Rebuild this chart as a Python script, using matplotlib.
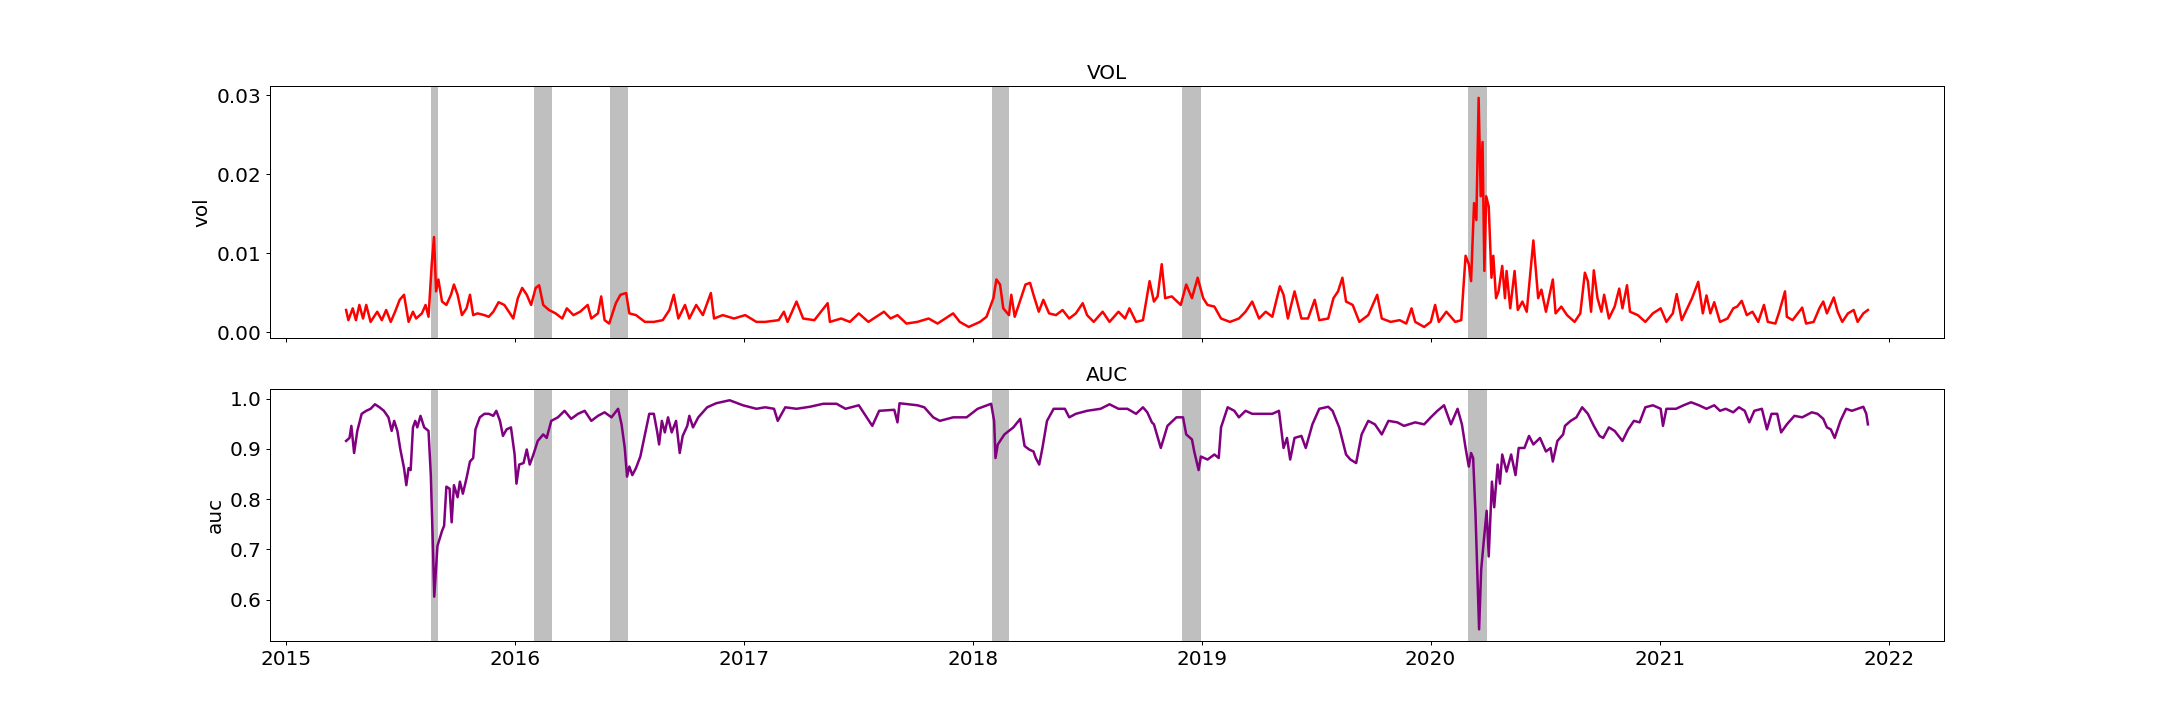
import numpy as np
import pandas as pd
import matplotlib
matplotlib.use('Agg')
import matplotlib.pyplot as plt

# ── Data (time as decimal year) ──────────────────────────────────────────────
VOL_T = [2015.263, 2015.273, 2015.292, 2015.306, 2015.321, 2015.337, 2015.351, 2015.370, 2015.399, 2015.419,
         2015.438, 2015.458, 2015.477, 2015.497, 2015.516, 2015.536, 2015.555, 2015.569, 2015.594, 2015.610,
         2015.623, 2015.637, 2015.647, 2015.656, 2015.666, 2015.682, 2015.701, 2015.721, 2015.734, 2015.750,
         2015.769, 2015.789, 2015.804, 2015.818, 2015.837, 2015.867, 2015.886, 2015.906, 2015.929, 2015.954,
         2015.974, 2015.993, 2016.013, 2016.032, 2016.052, 2016.071, 2016.091, 2016.106, 2016.124, 2016.149,
         2016.178, 2016.207, 2016.227, 2016.256, 2016.285, 2016.318, 2016.334, 2016.363, 2016.377, 2016.392,
         2016.412, 2016.441, 2016.461, 2016.486, 2016.500, 2016.529, 2016.568, 2016.607, 2016.646, 2016.675,
         2016.694, 2016.714, 2016.743, 2016.762, 2016.792, 2016.821, 2016.856, 2016.870, 2016.908, 2016.957,
         2017.006, 2017.055, 2017.093, 2017.152, 2017.175, 2017.191, 2017.230, 2017.259, 2017.308, 2017.366,
         2017.376, 2017.425, 2017.463, 2017.502, 2017.544, 2017.612, 2017.641, 2017.671, 2017.710, 2017.758,
         2017.807, 2017.846, 2017.914, 2017.943, 2017.982, 2018.031, 2018.060, 2018.090, 2018.103, 2018.119,
         2018.133, 2018.158, 2018.168, 2018.183, 2018.203, 2018.230, 2018.250, 2018.265, 2018.288, 2018.308,
         2018.333, 2018.363, 2018.392, 2018.421, 2018.450, 2018.480, 2018.499, 2018.528, 2018.567, 2018.597,
         2018.636, 2018.665, 2018.684, 2018.713, 2018.743, 2018.772, 2018.791, 2018.807, 2018.825, 2018.840,
         2018.869, 2018.908, 2018.932, 2018.957, 2018.982, 2019.006, 2019.025, 2019.055, 2019.084, 2019.123,
         2019.162, 2019.191, 2019.220, 2019.250, 2019.279, 2019.308, 2019.341, 2019.357, 2019.376, 2019.405,
         2019.435, 2019.464, 2019.493, 2019.513, 2019.552, 2019.575, 2019.595, 2019.614, 2019.630, 2019.659,
         2019.688, 2019.727, 2019.766, 2019.786, 2019.825, 2019.864, 2019.893, 2019.916, 2019.932, 2019.971,
         2020.000, 2020.019, 2020.035, 2020.068, 2020.107, 2020.133, 2020.152, 2020.166, 2020.176, 2020.189,
         2020.199, 2020.209, 2020.218, 2020.226, 2020.234, 2020.242, 2020.253, 2020.265, 2020.273, 2020.285,
         2020.296, 2020.312, 2020.324, 2020.331, 2020.347, 2020.366, 2020.380, 2020.400, 2020.419, 2020.433,
         2020.448, 2020.469, 2020.483, 2020.503, 2020.533, 2020.545, 2020.570, 2020.595, 2020.628, 2020.653,
         2020.673, 2020.686, 2020.700, 2020.712, 2020.728, 2020.745, 2020.757, 2020.778, 2020.803, 2020.823,
         2020.837, 2020.857, 2020.870, 2020.904, 2020.937, 2020.970, 2021.004, 2021.029, 2021.057, 2021.074,
         2021.096, 2021.141, 2021.168, 2021.188, 2021.204, 2021.221, 2021.238, 2021.263, 2021.296, 2021.321,
         2021.338, 2021.358, 2021.380, 2021.405, 2021.430, 2021.455, 2021.472, 2021.505, 2021.522, 2021.547,
         2021.555, 2021.580, 2021.622, 2021.639, 2021.672, 2021.697, 2021.714, 2021.730, 2021.760, 2021.777,
         2021.797, 2021.822, 2021.847, 2021.864, 2021.889, 2021.909]
VOL_V = [0.00280, 0.00151, 0.00301, 0.00151, 0.00344, 0.00172, 0.00344, 0.00129, 0.00258, 0.00151,
         0.00280, 0.00129, 0.00258, 0.00409, 0.00473, 0.00129, 0.00258, 0.00172, 0.00237, 0.00344,
         0.00194, 0.00861, 0.01205, 0.00516, 0.00667, 0.00387, 0.00344, 0.00473, 0.00603, 0.00473,
         0.00215, 0.00301, 0.00473, 0.00215, 0.00237, 0.00215, 0.00194, 0.00258, 0.00379, 0.00344,
         0.00258, 0.00172, 0.00430, 0.00560, 0.00473, 0.00344, 0.00560, 0.00594, 0.00344, 0.00280,
         0.00237, 0.00172, 0.00301, 0.00215, 0.00258, 0.00344, 0.00172, 0.00237, 0.00452, 0.00151,
         0.00108, 0.00366, 0.00473, 0.00495, 0.00237, 0.00215, 0.00129, 0.00129, 0.00151, 0.00280,
         0.00473, 0.00172, 0.00344, 0.00172, 0.00344, 0.00215, 0.00495, 0.00172, 0.00215, 0.00172,
         0.00215, 0.00129, 0.00129, 0.00151, 0.00258, 0.00129, 0.00387, 0.00172, 0.00151, 0.00366,
         0.00129, 0.00172, 0.00129, 0.00237, 0.00129, 0.00258, 0.00172, 0.00215, 0.00108, 0.00129,
         0.00172, 0.00108, 0.00237, 0.00129, 0.00065, 0.00129, 0.00194, 0.00430, 0.00667, 0.00603,
         0.00301, 0.00215, 0.00473, 0.00194, 0.00366, 0.00603, 0.00624, 0.00473, 0.00258, 0.00409,
         0.00237, 0.00215, 0.00280, 0.00172, 0.00237, 0.00366, 0.00215, 0.00129, 0.00258, 0.00129,
         0.00258, 0.00172, 0.00301, 0.00129, 0.00151, 0.00646, 0.00387, 0.00452, 0.00861, 0.00430,
         0.00452, 0.00344, 0.00603, 0.00430, 0.00689, 0.00430, 0.00344, 0.00323, 0.00172, 0.00129,
         0.00172, 0.00258, 0.00387, 0.00172, 0.00258, 0.00194, 0.00581, 0.00473, 0.00172, 0.00516,
         0.00172, 0.00172, 0.00409, 0.00151, 0.00172, 0.00430, 0.00516, 0.00689, 0.00387, 0.00344,
         0.00129, 0.00215, 0.00473, 0.00172, 0.00129, 0.00151, 0.00108, 0.00301, 0.00129, 0.00065,
         0.00129, 0.00344, 0.00129, 0.00258, 0.00129, 0.00151, 0.00968, 0.00861, 0.00646, 0.01636,
         0.01420, 0.02970, 0.01722, 0.02410, 0.00775, 0.01722, 0.01592, 0.00689, 0.00968, 0.00430,
         0.00516, 0.00839, 0.00430, 0.00775, 0.00301, 0.00775, 0.00280, 0.00387, 0.00258, 0.00689,
         0.01162, 0.00430, 0.00538, 0.00258, 0.00667, 0.00237, 0.00323, 0.00215, 0.00129, 0.00237,
         0.00753, 0.00646, 0.00258, 0.00783, 0.00430, 0.00258, 0.00473, 0.00172, 0.00323, 0.00551,
         0.00301, 0.00594, 0.00258, 0.00215, 0.00129, 0.00237, 0.00301, 0.00129, 0.00237, 0.00482,
         0.00151, 0.00430, 0.00637, 0.00237, 0.00465, 0.00237, 0.00379, 0.00129, 0.00172, 0.00301,
         0.00323, 0.00396, 0.00215, 0.00258, 0.00129, 0.00344, 0.00129, 0.00108, 0.00258, 0.00516,
         0.00194, 0.00151, 0.00310, 0.00108, 0.00129, 0.00301, 0.00387, 0.00237, 0.00439, 0.00258,
         0.00129, 0.00237, 0.00280, 0.00129, 0.00237, 0.00280]

AUC_T = [2015.263, 2015.278, 2015.286, 2015.298, 2015.312, 2015.331, 2015.351, 2015.370, 2015.389, 2015.409,
         2015.428, 2015.448, 2015.462, 2015.473, 2015.487, 2015.500, 2015.516, 2015.526, 2015.536, 2015.545,
         2015.555, 2015.565, 2015.574, 2015.588, 2015.604, 2015.623, 2015.633, 2015.643, 2015.648, 2015.662,
         2015.682, 2015.691, 2015.701, 2015.715, 2015.724, 2015.734, 2015.750, 2015.760, 2015.773, 2015.789,
         2015.804, 2015.818, 2015.828, 2015.847, 2015.867, 2015.886, 2015.906, 2015.919, 2015.935, 2015.948,
         2015.964, 2015.983, 2015.999, 2016.007, 2016.019, 2016.038, 2016.052, 2016.065, 2016.081, 2016.100,
         2016.124, 2016.139, 2016.159, 2016.188, 2016.217, 2016.246, 2016.276, 2016.305, 2016.334, 2016.363,
         2016.392, 2016.422, 2016.451, 2016.466, 2016.480, 2016.490, 2016.500, 2016.513, 2016.529, 2016.548,
         2016.568, 2016.587, 2016.607, 2016.622, 2016.630, 2016.642, 2016.655, 2016.669, 2016.685, 2016.704,
         2016.720, 2016.733, 2016.753, 2016.762, 2016.778, 2016.801, 2016.840, 2016.879, 2016.938, 2016.996,
         2017.055, 2017.093, 2017.132, 2017.148, 2017.181, 2017.230, 2017.288, 2017.347, 2017.405, 2017.444,
         2017.502, 2017.561, 2017.591, 2017.657, 2017.671, 2017.680, 2017.758, 2017.788, 2017.827, 2017.856,
         2017.914, 2017.973, 2018.021, 2018.080, 2018.093, 2018.099, 2018.109, 2018.138, 2018.177, 2018.207,
         2018.226, 2018.246, 2018.265, 2018.275, 2018.290, 2018.304, 2018.324, 2018.353, 2018.402, 2018.421,
         2018.450, 2018.499, 2018.558, 2018.597, 2018.636, 2018.675, 2018.713, 2018.743, 2018.762, 2018.782,
         2018.791, 2018.821, 2018.850, 2018.889, 2018.918, 2018.932, 2018.957, 2018.967, 2018.986, 2018.996,
         2019.025, 2019.055, 2019.074, 2019.084, 2019.113, 2019.142, 2019.162, 2019.191, 2019.220, 2019.259,
         2019.308, 2019.337, 2019.357, 2019.372, 2019.386, 2019.405, 2019.435, 2019.454, 2019.483, 2019.513,
         2019.552, 2019.571, 2019.600, 2019.630, 2019.649, 2019.674, 2019.698, 2019.727, 2019.756, 2019.786,
         2019.815, 2019.854, 2019.883, 2019.932, 2019.971, 2020.000, 2020.029, 2020.058, 2020.088, 2020.117,
         2020.136, 2020.152, 2020.166, 2020.176, 2020.185, 2020.195, 2020.211, 2020.220, 2020.230, 2020.244,
         2020.253, 2020.267, 2020.277, 2020.292, 2020.302, 2020.312, 2020.331, 2020.351, 2020.370, 2020.384,
         2020.409, 2020.429, 2020.448, 2020.477, 2020.503, 2020.523, 2020.533, 2020.553, 2020.578, 2020.586,
         2020.611, 2020.636, 2020.661, 2020.686, 2020.712, 2020.737, 2020.753, 2020.778, 2020.803, 2020.837,
         2020.862, 2020.887, 2020.912, 2020.937, 2020.970, 2021.004, 2021.014, 2021.029, 2021.071, 2021.104,
         2021.137, 2021.171, 2021.204, 2021.238, 2021.263, 2021.288, 2021.321, 2021.346, 2021.371, 2021.391,
         2021.413, 2021.446, 2021.468, 2021.488, 2021.513, 2021.530, 2021.555, 2021.588, 2021.622, 2021.664,
         2021.689, 2021.714, 2021.730, 2021.747, 2021.764, 2021.789, 2021.814, 2021.839, 2021.864, 2021.889,
         2021.902, 2021.909]
AUC_V = [0.916, 0.922, 0.946, 0.892, 0.936, 0.970, 0.976, 0.980, 0.989, 0.983,
         0.976, 0.963, 0.936, 0.956, 0.936, 0.899, 0.862, 0.828, 0.862, 0.858,
         0.943, 0.956, 0.943, 0.966, 0.943, 0.936, 0.848, 0.693, 0.606, 0.707,
         0.737, 0.747, 0.825, 0.821, 0.754, 0.828, 0.804, 0.835, 0.811, 0.842,
         0.875, 0.882, 0.939, 0.963, 0.970, 0.970, 0.966, 0.976, 0.956, 0.926,
         0.939, 0.943, 0.889, 0.831, 0.869, 0.872, 0.899, 0.869, 0.889, 0.916,
         0.929, 0.922, 0.956, 0.963, 0.976, 0.960, 0.970, 0.976, 0.956, 0.966,
         0.973, 0.963, 0.980, 0.949, 0.902, 0.845, 0.865, 0.848, 0.862, 0.885,
         0.929, 0.970, 0.970, 0.933, 0.909, 0.956, 0.933, 0.963, 0.933, 0.956,
         0.892, 0.926, 0.946, 0.966, 0.943, 0.963, 0.983, 0.991, 0.997, 0.987,
         0.980, 0.983, 0.980, 0.956, 0.983, 0.980, 0.984, 0.990, 0.990, 0.980,
         0.987, 0.946, 0.976, 0.978, 0.953, 0.991, 0.987, 0.983, 0.963, 0.956,
         0.963, 0.963, 0.980, 0.990, 0.956, 0.882, 0.909, 0.929, 0.943, 0.960,
         0.906, 0.899, 0.895, 0.882, 0.869, 0.902, 0.956, 0.980, 0.980, 0.963,
         0.970, 0.976, 0.980, 0.989, 0.980, 0.980, 0.970, 0.983, 0.973, 0.953,
         0.949, 0.902, 0.946, 0.963, 0.963, 0.929, 0.919, 0.895, 0.858, 0.885,
         0.879, 0.889, 0.882, 0.943, 0.983, 0.976, 0.963, 0.976, 0.970, 0.970,
         0.970, 0.976, 0.902, 0.922, 0.879, 0.922, 0.926, 0.902, 0.949, 0.980,
         0.984, 0.976, 0.943, 0.889, 0.879, 0.872, 0.929, 0.956, 0.949, 0.929,
         0.956, 0.953, 0.946, 0.953, 0.949, 0.963, 0.976, 0.987, 0.949, 0.980,
         0.949, 0.902, 0.865, 0.892, 0.882, 0.774, 0.541, 0.659, 0.710, 0.777,
         0.686, 0.835, 0.784, 0.869, 0.831, 0.889, 0.855, 0.889, 0.848, 0.902,
         0.902, 0.926, 0.909, 0.922, 0.895, 0.902, 0.875, 0.916, 0.929, 0.946,
         0.956, 0.963, 0.983, 0.970, 0.946, 0.926, 0.922, 0.943, 0.936, 0.916,
         0.939, 0.956, 0.953, 0.983, 0.987, 0.980, 0.946, 0.980, 0.980, 0.987,
         0.993, 0.987, 0.980, 0.987, 0.976, 0.980, 0.973, 0.983, 0.976, 0.953,
         0.976, 0.980, 0.939, 0.970, 0.970, 0.933, 0.949, 0.966, 0.963, 0.973,
         0.970, 0.960, 0.943, 0.939, 0.922, 0.956, 0.980, 0.976, 0.980, 0.984,
         0.970, 0.949]

# shaded periods
SPAN_START = ['2015-08-21', '2016-02-01', '2016-06-01', '2018-02-01', '2018-12-01', '2020-03-01']
SPAN_END   = ['2015-08-31', '2016-02-29', '2016-06-30', '2018-02-28', '2018-12-31', '2020-03-31']


def to_dates(years):
    yrs = np.asarray(years)
    return pd.Timestamp('2015-01-01') + pd.to_timedelta((yrs - 2015) * 365.25, unit='D')


plt.rcParams['font.size'] = 16

fig, (ax1, ax2) = plt.subplots(2, 1, sharex=True, figsize=(24, 8), dpi=90)

panels = [
    (ax1, to_dates(VOL_T), VOL_V, 'red', 'VOL', 'vol'),
    (ax2, to_dates(AUC_T), AUC_V, 'purple', 'AUC', 'auc'),
]
for ax, t, v, color, title, ylabel in panels:
    ax.plot(t, v, color=color, linewidth=2)
    for s, e in zip(SPAN_START, SPAN_END):
        ax.axvspan(pd.Timestamp(s), pd.Timestamp(e), color='grey', alpha=0.5, linewidth=0)
    ax.set_title(title, fontsize=16)
    ax.set_ylabel(ylabel, fontsize=16)
    ax.tick_params(labelsize=16)

plt.savefig('out.png', dpi=90)
